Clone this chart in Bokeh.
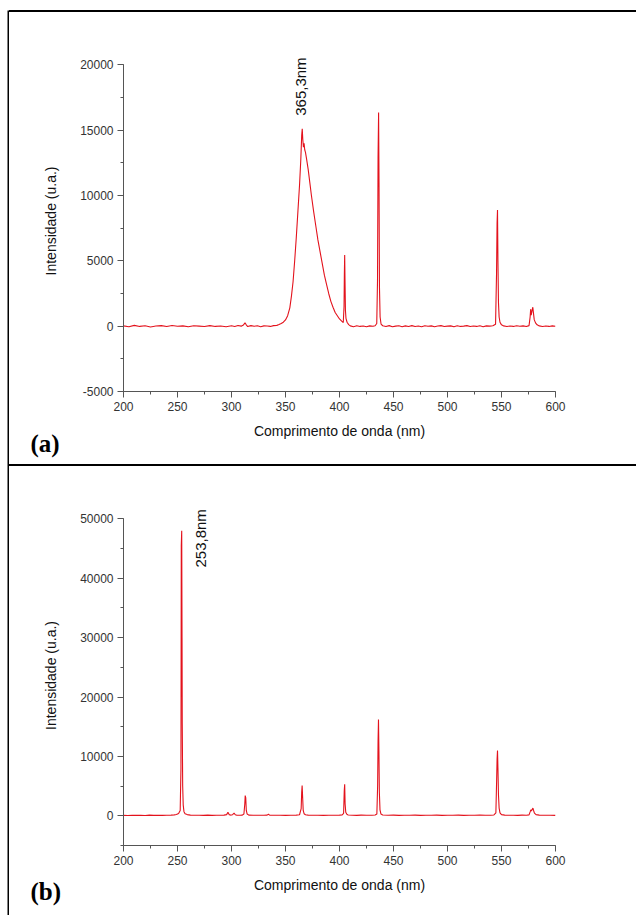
from math import pi
from bokeh.plotting import figure
from bokeh.layouts import row, column
from bokeh.models import (Spacer, Label, Title, Div, SingleIntervalTicker,
                          NumeralTickFormatter)
from bokeh.embed import file_html
from bokeh.resources import INLINE

# ---------------- data ----------------
X_TICK_STEP = 50
Y_TICK_STEP_A = 5000
Y_TICK_STEP_B = 10000

# (a) UV lamp spectrum
wl_a = [200, 205, 210, 215, 220, 225, 230, 235, 240, 245, 250, 255, 260, 265, 270, 275, 280, 285, 290, 295,
        300, 303, 306, 309, 311, 312.5, 313.5, 315, 318, 321, 324, 327, 330, 333, 336, 339, 342, 344, 346, 348,
        350, 352, 354, 355.5, 357, 358.5, 360, 361.5, 363, 364.2, 365, 365.5, 366, 366.6, 367.2, 367.8, 368.5,
        369.5, 371, 372.5, 374, 376, 378, 380, 382, 384, 386, 388, 390, 392, 394, 396, 398, 400, 402, 403.5,
        404.2, 404.5, 404.8, 405.1, 405.5, 406, 407, 408.5, 410, 413, 416, 419, 422, 425, 428, 431, 433,
        434.5, 435.2, 435.7, 436.2, 436.6, 437, 437.6, 438.5, 440, 443, 446, 449, 452, 455, 458, 461, 464,
        467, 470, 473, 476, 479, 482, 485, 488, 491, 494, 497, 500, 503, 506, 509, 512, 515, 518, 521, 524,
        527, 530, 533, 536, 539, 542, 544.5, 545.4, 545.9, 546.3, 546.7, 547.2, 547.8, 548.6, 550, 552, 555,
        558, 561, 564, 567, 570, 573, 575.5, 576.5, 577, 577.5, 578.2, 579, 579.6, 580.3, 581.5, 583, 585,
        588, 591, 594, 597, 600]
int_a = [20, -40, 60, -20, 30, -60, 10, 40, -30, 50, -10, 20, -50, 30, 0, -30, 40, -20, 10, -40,
         30, -20, 50, 0, 80, 260, 120, -30, 40, -10, 30, -40, 20, 10, -20, 40, 60, 120, 200, 300,
         480, 800, 1400, 2300, 3400, 5000, 6800, 8800, 10800, 12800, 14600, 15100, 14300, 13700, 14000, 13500, 13300,
         12800, 12000, 11000, 10000, 8800, 7700, 6600, 5700, 4800, 3900, 3200, 2500, 1900, 1450, 1050, 800, 550, 380, 280,
         1500, 4000, 5450, 3500, 1200, 600, 300, 120, 20, -40, 30, -20, 10, -50, 20, -10, 30,
         200, 3500, 12900, 16350, 11000, 3000, 700, 150, 30, -30, 40, -50, 0, 30, -40, 20, -20,
         40, -30, 10, -40, 30, -10, 20, -50, 10, 40, -30, 0, 20, -40, 30, -20, 0, 40, -30, 10,
         -20, 30, -40, 20, 0, 30, 150, 4000, 7900, 8880, 5000, 1800, 700, 300, 100, 20, -30,
         10, -20, 30, -10, 20, -30, 40, 700, 1300, 850, 1150, 1450, 1000, 500, 250, 100, 20,
         -30, 10, -20, 20, -10]

# (b) Hg lamp spectrum
wl_b = [200, 204, 208, 212, 216, 220, 224, 228, 232, 236, 240, 244, 247, 249, 251, 252.5, 253.2, 253.5, 253.9,
        254.2, 254.4, 254.8, 255.3, 256, 257, 259, 262, 266, 270, 274, 278, 282, 286, 290, 293, 295.5, 296.7,
        297.8, 299, 301, 302.4, 303.5, 305, 308, 310, 311.5, 312.3, 312.7, 313.2, 313.7, 314.5, 316, 320, 325,
        330, 333, 334.2, 335.3, 340, 345, 350, 355, 360, 363, 364.5, 365, 365.4, 365.9, 366.4, 367.2, 368.5,
        371, 375, 380, 385, 390, 395, 400, 402.5, 403.8, 404.4, 404.8, 405.2, 405.8, 406.8, 408, 412, 416,
        420, 425, 430, 433, 434.6, 435.3, 435.7, 436.1, 436.5, 436.9, 437.5, 438.4, 440, 445, 450, 455, 460,
        465, 470, 475, 480, 485, 490, 495, 500, 505, 510, 515, 520, 525, 530, 535, 540, 543, 544.8, 545.5,
        545.9, 546.3, 546.7, 547.2, 547.8, 548.6, 550, 553, 557, 561, 565, 569, 573, 575.5, 576.6, 577.1,
        577.7, 578.5, 579.1, 579.7, 580.5, 582, 585, 590, 595, 600]
int_b = [80, 60, 100, 70, 90, 60, 110, 80, 100, 70, 90, 120, 150, 220, 400, 900, 8000, 45500, 48000,
         30000, 15400, 5000, 1800, 700, 350, 200, 120, 90, 100, 80, 110, 70, 100, 90, 120, 200, 600,
         200, 120, 180, 450, 180, 100, 90, 120, 300, 2000, 3400, 3000, 900, 300, 120, 90, 100,
         90, 110, 250, 110, 90, 100, 80, 100, 120, 180, 1200, 4000, 5100, 3000, 900, 350, 180,
         110, 90, 100, 80, 100, 90, 110, 150, 400, 4200, 5300, 2000, 600, 250, 140, 100, 80,
         110, 90, 100, 130, 300, 5000, 12550, 16200, 11000, 4000, 1000, 300, 130, 90, 110, 80, 100,
         90, 110, 80, 100, 90, 110, 80, 100, 90, 110, 80, 100, 90, 110, 90, 100, 140, 500, 6000,
         9460, 10980, 8000, 3500, 1300, 500, 200, 110, 90, 100, 80, 110, 90, 150, 700, 1000,
         800, 1100, 1290, 900, 450, 200, 120, 90, 100, 80]

LINE_COLOR = "#e3121c"
FONT = "Liberation Sans"


def vbar(w, h):
    f = figure(width=w, height=h, toolbar_location=None, output_backend="svg",
               min_border=0, x_axis_type=None, y_axis_type=None,
               background_fill_color="black", border_fill_color="black",
               outline_line_color=None)
    return f


def hbar(w, h):
    return Div(text="", width=w, height=h, margin=0,
               styles={"background-color": "black", "overflow": "hidden"})


def panel(wl, inten, ymin, yaxmax, ymax, ystep, h, mb_top, mb_bottom, tag, tag_standoff,
          ann_text, ann_x, ann_y, ann_xoff):
    p = figure(width=627, height=h, x_range=(200, 600), y_range=(ymin, ymax),
               toolbar_location=None, output_backend="svg",
               min_border_left=114, min_border_right=81, min_border_top=mb_top,
               min_border_bottom=mb_bottom, outline_line_color=None,
               background_fill_color="white", border_fill_color="white")
    p.grid.visible = False
    p.line(wl, inten, line_color=LINE_COLOR, line_width=1.1)

    p.xaxis.ticker = SingleIntervalTicker(interval=X_TICK_STEP, num_minor_ticks=2)
    p.yaxis.ticker = SingleIntervalTicker(interval=ystep, num_minor_ticks=2)
    p.yaxis.formatter = NumeralTickFormatter(format="0")
    p.yaxis.bounds = (ymin, yaxmax)
    for ax in (p.xaxis[0], p.yaxis[0]):
        ax.axis_line_color = "#555555"
        ax.major_tick_line_color = "#555555"
        ax.minor_tick_line_color = "#555555"
        ax.major_tick_out = 6
        ax.major_tick_in = 0
        ax.minor_tick_out = 3
        ax.minor_tick_in = 0
        ax.major_label_text_font = FONT
        ax.major_label_text_font_size = "12px"
        ax.major_label_text_color = "#333333"
        ax.axis_label_text_font = FONT
        ax.axis_label_text_font_size = "14px"
        ax.axis_label_text_font_style = "normal"
        ax.axis_label_text_color = "#111111"
    p.xaxis.major_label_standoff = 4
    p.yaxis.major_label_standoff = 4
    p.xaxis.axis_label = "Comprimento de onda (nm)"
    p.yaxis.axis_label = "Intensidade (u.a.)"
    p.xaxis.axis_label_standoff = 9
    p.yaxis.axis_label_standoff = 18

    p.add_layout(Label(x=ann_x, y=ann_y, text=ann_text, angle=pi / 2,
                       text_align="left", text_baseline="middle", x_offset=ann_xoff,
                       text_font=FONT, text_font_size="15px", text_color="#111111"))
    p.add_layout(Title(text=tag, align="left", vertical_align="top", offset=-93,
                       standoff=tag_standoff,
                       text_font="Liberation Serif", text_font_style="bold",
                       text_font_size="25px", text_color="black"), "below")
    return p


pa = panel(wl_a, int_a, -5000, 20000, 21094, Y_TICK_STEP_A, 452, 38, 73, "(a)", -24,
           "365,3nm", 365.3, 16100, -2)
pb = panel(wl_b, int_b, -5000, 50000, 52247, Y_TICK_STEP_B, 449, 39, 70, "(b)", -36,
           "253,8nm", 253.8, 41800, 19)

inner = column(hbar(627, 2), pa, hbar(627, 2), pb, spacing=0)
body = row(Spacer(width=7, height=905), vbar(2, 905), inner, spacing=0)
layout = column(Spacer(width=636, height=10), body, spacing=0)

open("out.html", "w").write(file_html(layout, INLINE))
